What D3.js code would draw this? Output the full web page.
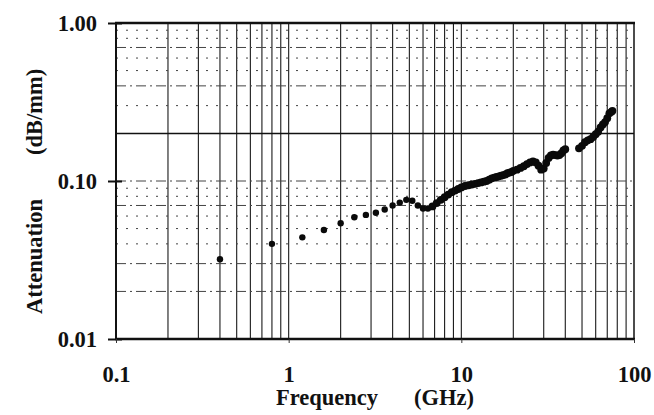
<!DOCTYPE html>
<html>
<head>
<meta charset="utf-8">
<script src="https://cdn.jsdelivr.net/npm/d3@7"></script>
<style>
  html, body { margin: 0; padding: 0; background: #fff; }
  svg text { font-family: "Liberation Serif", "Times New Roman", serif; font-weight: bold; fill: #111; }
</style>
</head>
<body>
<svg id="chart" width="654" height="415"></svg>
<script>
// ---- data ----
const xTickValues = [0.1, 1, 10, 100];
const xTickLabels = ["0.1", "1", "10", "100"];
const yTickValues = [0.01, 0.1, 1];
const yTickLabels = ["0.01", "0.10", "1.00"];
const xTitle = ["Frequency", "(GHz)"];
const yTitle = ["Attenuation", "(dB/mm)"];

// low-frequency points (GHz, dB/mm)
const freqLow = [0.4, 0.8, 1.2, 1.6, 2.0, 2.4, 2.8, 3.2, 3.6, 4.0, 4.4, 4.8, 5.2, 5.6, 6.0, 6.4];
const attLow  = [0.032, 0.040, 0.044, 0.049, 0.054, 0.059, 0.061, 0.063, 0.066, 0.070, 0.073, 0.076, 0.075, 0.070, 0.067, 0.067];

// dense segment 6.8 - 40 GHz
const freqMid = [6.8, 7.2, 7.6, 8.0, 8.4, 8.8, 9.2, 9.6, 10, 10.5, 11, 11.5, 12, 12.5, 13, 13.5, 14, 14.5, 15, 15.5, 16, 16.5, 17, 17.5, 18, 18.5, 19, 19.5,
                 20, 21, 22, 23, 24, 25, 26, 27, 28, 29, 30, 31, 32, 33, 34, 35, 36, 37, 38, 39, 40];
const attMid  = [0.069, 0.0725, 0.076, 0.079, 0.082, 0.085, 0.087, 0.089, 0.091, 0.093, 0.094, 0.095, 0.096, 0.097, 0.098, 0.099, 0.100, 0.102, 0.104, 0.105, 0.106, 0.107, 0.108, 0.109, 0.110, 0.112, 0.113, 0.114,
                 0.116, 0.118, 0.121, 0.124, 0.128, 0.131, 0.133, 0.131, 0.125, 0.118, 0.120, 0.130, 0.140, 0.145, 0.147, 0.146, 0.145, 0.146, 0.150, 0.156, 0.159];

// high segment 48 - 75 GHz
const freqHigh = [48, 50, 52, 54, 56, 58, 60, 62, 64, 66, 68, 70, 72, 74, 75];
const attHigh  = [0.161, 0.167, 0.176, 0.181, 0.184, 0.190, 0.198, 0.205, 0.218, 0.228, 0.236, 0.250, 0.268, 0.274, 0.278];

// ---- chart ----
const svg = d3.select("#chart");
const L = 116, R = 634, T = 23, B = 339;
const FS = 22.5;
const x = d3.scaleLog().domain([0.1, 100]).range([L, R]);
const y = d3.scaleLog().domain([0.01, 1]).range([B, T]);

// vertical grid lines (solid)
const gx = svg.append("g");
gx.selectAll("line").data(x.ticks().filter(v => v > 0.1 && v < 100))
  .join("line")
  .attr("x1", d => x(d)).attr("x2", d => x(d))
  .attr("y1", T).attr("y2", B)
  .attr("stroke", "#1a1a1a").attr("stroke-width", 1.1);

// horizontal grid lines (dashed, 0.2 solid)
const denseSet = [0.7, 0.4, 0.1, 0.07, 0.03, 0.02];
const gy = svg.append("g");
gy.selectAll("line").data(y.ticks().filter(v => v > 0.01 && v < 1))
  .join("line")
  .attr("x1", L).attr("x2", R)
  .attr("y1", d => y(d)).attr("y2", d => y(d))
  .attr("stroke", d => Math.abs(d - 0.2) < 1e-9 ? "#111" : "#444")
  .attr("stroke-width", d => Math.abs(d - 0.2) < 1e-9 ? 1.6 : 1)
  .attr("stroke-dasharray", d => {
    if (Math.abs(d - 0.2) < 1e-9) return null;
    if (denseSet.some(v => Math.abs(v - d) < 1e-9)) return "10,4,2,4";
    return "2,8";
  });

// frame
svg.append("line").attr("x1", L - 1).attr("x2", R + 1).attr("y1", T).attr("y2", T).attr("stroke", "#111").attr("stroke-width", 2.5);
svg.append("line").attr("x1", L - 1).attr("x2", R + 1).attr("y1", B).attr("y2", B).attr("stroke", "#111").attr("stroke-width", 2.5);
svg.append("line").attr("x1", L).attr("x2", L).attr("y1", T).attr("y2", B).attr("stroke", "#111").attr("stroke-width", 2);
svg.append("line").attr("x1", R).attr("x2", R).attr("y1", T).attr("y2", B).attr("stroke", "#111").attr("stroke-width", 1.5);

// y axis
const yAxis = svg.append("g").attr("transform", `translate(${L + 6},0)`)
  .call(d3.axisLeft(y).tickValues(yTickValues).tickFormat((d, i) => yTickLabels[i]).tickSize(14).tickPadding(11));
yAxis.select(".domain").remove();
yAxis.selectAll(".tick line").attr("stroke", "#111").attr("stroke-width", 2);
yAxis.selectAll("text").attr("font-size", FS).attr("font-family", null).attr("fill", "#111");

// x axis
const xAxis = svg.append("g").attr("transform", `translate(0,${B})`)
  .call(d3.axisBottom(x).tickValues(xTickValues).tickFormat((d, i) => xTickLabels[i]).tickSize(4).tickPadding(23));
xAxis.select(".domain").remove();
xAxis.selectAll(".tick line").attr("stroke", "#333").attr("stroke-width", 1);
xAxis.selectAll("text").attr("font-size", FS).attr("font-family", null).attr("fill", "#111");

// titles
svg.append("text").attr("x", 276).attr("y", 405).attr("font-size", FS).text(xTitle[0]);
svg.append("text").attr("x", 414).attr("y", 405).attr("font-size", FS).text(xTitle[1]);
svg.append("text").attr("transform", "translate(42,314) rotate(-90)").attr("font-size", FS).text(yTitle[0]);
svg.append("text").attr("transform", "translate(42,155) rotate(-90)").attr("font-size", FS).text(yTitle[1]);

// data points
const pts = [];
freqLow.forEach((f, i) => pts.push([f, attLow[i], 3.2]));
freqMid.forEach((f, i) => pts.push([f, attMid[i], 3.9]));
freqHigh.forEach((f, i) => pts.push([f, attHigh[i], 3.9]));
svg.append("g").selectAll("circle").data(pts).join("circle")
  .attr("cx", d => x(d[0])).attr("cy", d => y(d[1]))
  .attr("r", d => d[2]).attr("fill", "#0a0a0a");
</script>
</body>
</html>
